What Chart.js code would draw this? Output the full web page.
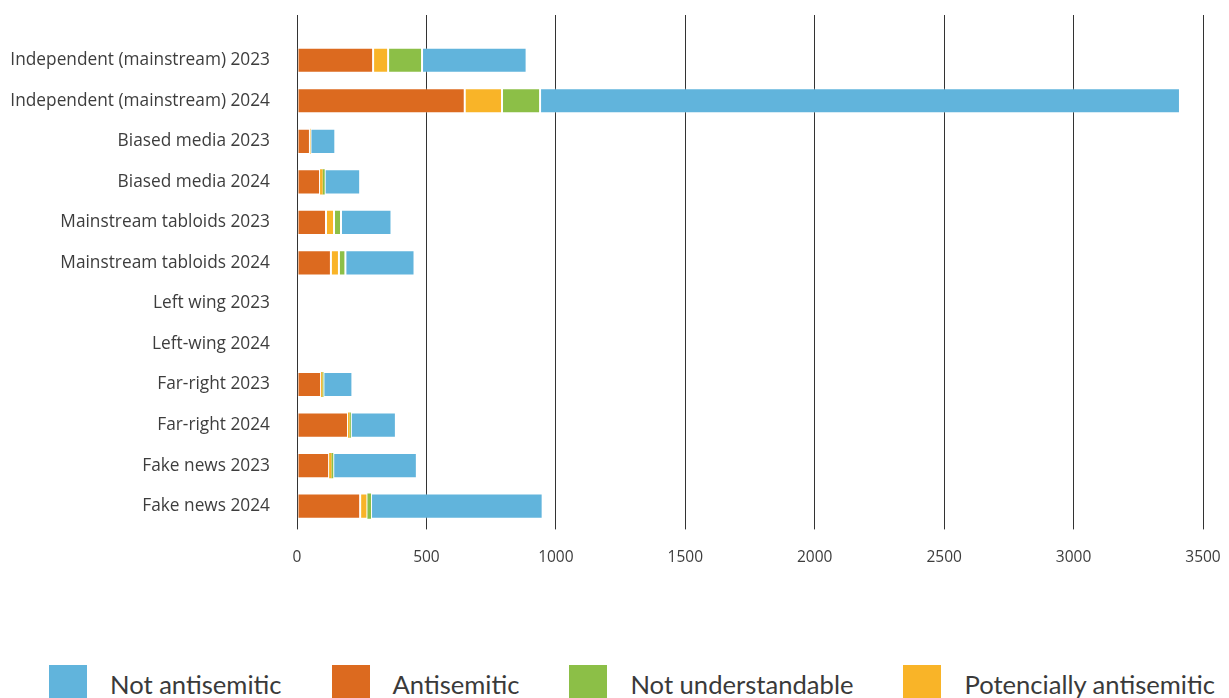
<!DOCTYPE html>
<html>
<head>
<meta charset="utf-8">
<script src="https://cdn.jsdelivr.net/npm/chart.js@4/dist/chart.umd.min.js"></script>
<style>
  html, body { margin: 0; padding: 0; background: #fff; overflow: hidden; }
  #wrap { position: relative; width: 1229px; height: 698px; }
  #box { position: absolute; left: 0; top: 0; width: 1229px; height: 600px; }
  #legend {
    position: absolute; left: 49px; top: 665px;
    display: flex; align-items: flex-start;
    font-family: Lato, sans-serif; font-size: 25.6px; color: #3a3a3a;
  }
  .item { display: flex; align-items: flex-start; margin-right: 50px; white-space: nowrap; }
  .swatch { width: 38px; height: 38px; margin-right: 23px; }
  .item span { line-height: 38px; }
</style>
</head>
<body>
<div id="wrap">
  <div id="box"><canvas id="chart"></canvas></div>
  <div id="legend"></div>
</div>
<script>
  const categories = [
    "Independent (mainstream) 2023",
    "Independent (mainstream) 2024",
    "Biased media 2023",
    "Biased media 2024",
    "Mainstream tabloids 2023",
    "Mainstream tabloids 2024",
    "Left wing 2023",
    "Left-wing 2024",
    "Far-right 2023",
    "Far-right 2024",
    "Fake news 2023",
    "Fake news 2024"
  ];

  // stacked left to right in this order
  const antisemitic = [294, 648, 50, 89, 112, 131, 0, 0, 93, 197, 124, 244];
  const potenciallyAntisemitic = [58, 144, 2, 10, 31, 31, 0, 0, 5, 6, 9, 28];
  const notUnderstandable = [131, 147, 0, 8, 27, 25, 0, 0, 4, 5, 7, 14];
  const notAntisemitic = [404, 2472, 96, 137, 195, 267, 0, 0, 112, 174, 323, 663];

  const xTicks = [0, 500, 1000, 1500, 2000, 2500, 3000, 3500];

  const colors = {
    "Not antisemitic": "#61b4dc",
    "Antisemitic": "#dc6a1f",
    "Not understandable": "#8cbf47",
    "Potencially antisemitic": "#f9b428"
  };
  const legendOrder = ["Not antisemitic", "Antisemitic", "Not understandable", "Potencially antisemitic"];

  const fontFamily = "'Open Sans', sans-serif";
  const gridColor = "#333333";
  const textColor = "#3d3d3d";

  function makeDataset(label, values) {
    return {
      label,
      data: values,
      backgroundColor: colors[label],
      borderColor: "rgba(255, 255, 255, 0.25)",
      // thin slivers would turn white with a border, so drop it there
      borderWidth: (ctx) => (ctx.raw < 15 ? 0 : 1),
      borderSkipped: false,
      barPercentage: 0.62,
      categoryPercentage: 1
    };
  }

  const chart = new Chart(document.getElementById("chart"), {
    type: "bar",
    data: {
      labels: categories,
      datasets: [
        makeDataset("Antisemitic", antisemitic),
        makeDataset("Potencially antisemitic", potenciallyAntisemitic),
        makeDataset("Not understandable", notUnderstandable),
        makeDataset("Not antisemitic", notAntisemitic)
      ]
    },
    options: {
      indexAxis: "y",
      responsive: true,
      maintainAspectRatio: false,
      animation: false,
      layout: {
        padding: { top: 15, right: 0, bottom: 14, left: 0 }
      },
      plugins: {
        legend: { display: false },
        tooltip: { enabled: false }
      },
      scales: {
        x: {
          stacked: true,
          min: 0,
          max: 3500,
          afterBuildTicks(scale) {
            scale.ticks = xTicks.map((value) => ({ value }));
          },
          afterFit(scale) {
            // keep the 3500 line where the original has it
            scale.paddingRight = 26;
          },
          border: { display: false },
          grid: {
            color: gridColor,
            lineWidth: 1,
            drawTicks: true,
            tickLength: 3
          },
          ticks: {
            padding: 19,
            color: textColor,
            font: { family: fontFamily, size: 15.5 },
            callback(value) {
              return String(value);
            }
          }
        },
        x2: {
          position: "top",
          type: "linear",
          min: 0,
          max: 3500,
          afterBuildTicks(scale) {
            scale.ticks = xTicks.map((value) => ({ value }));
          },
          border: { display: false },
          grid: {
            color: gridColor,
            lineWidth: 1,
            drawOnChartArea: false,
            drawTicks: true,
            tickLength: 25
          },
          ticks: { display: false }
        },
        y: {
          stacked: true,
          border: { display: false },
          grid: { display: false, drawTicks: false },
          afterFit(scale) {
            scale.width = 297;
          },
          ticks: {
            padding: 27,
            color: textColor,
            font: { family: fontFamily, size: 17.3 }
          }
        }
      }
    }
  });

  // legend in the original's order (differs from stacking order)
  const legendEl = document.getElementById("legend");
  legendOrder.forEach((name) => {
    const ds = chart.data.datasets.find((d) => d.label === name);
    const item = document.createElement("div");
    item.className = "item";
    const sw = document.createElement("div");
    sw.className = "swatch";
    sw.style.background = ds.backgroundColor;
    const txt = document.createElement("span");
    txt.textContent = ds.label;
    item.appendChild(sw);
    item.appendChild(txt);
    legendEl.appendChild(item);
  });
</script>
</body>
</html>
